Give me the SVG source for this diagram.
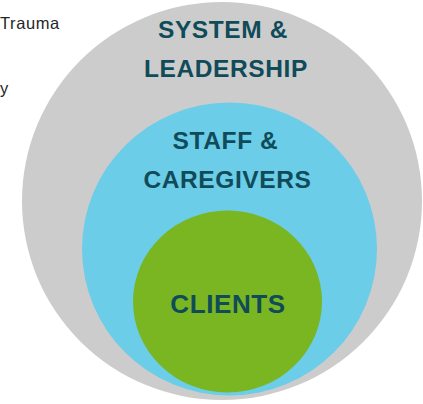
<svg xmlns="http://www.w3.org/2000/svg" width="423" height="404" viewBox="0 0 423 404">
<style>
.lbl{font-family:"Liberation Sans",Arial,sans-serif;font-weight:bold;fill:#104b59;text-anchor:middle;letter-spacing:0.6px}
.side{font-family:"Liberation Sans",Arial,sans-serif;fill:#262626;font-size:16.5px;letter-spacing:0.6px}
</style>
<rect width="423" height="404" fill="#ffffff"/>
<text class="side" x="0" y="29">Trauma</text>
<text class="side" x="0" y="94">y</text>
<g id="system-leadership">
<ellipse cx="222" cy="201" rx="200" ry="199" fill="#cdcccd"/>
<text class="lbl" x="223" y="38" font-size="24.5">SYSTEM &amp;</text>
<text class="lbl" x="226" y="77" font-size="24.5">LEADERSHIP</text>
</g>
<g id="staff-caregivers">
<ellipse cx="229.5" cy="249" rx="147.5" ry="146.5" fill="#6bcde8"/>
<text class="lbl" x="225.5" y="149" font-size="24.5">STAFF &amp;</text>
<text class="lbl" x="227.5" y="188" font-size="24.5">CAREGIVERS</text>
</g>
<g id="clients">
<ellipse cx="227.5" cy="301.5" rx="94.5" ry="91" fill="#79b622"/>
<text class="lbl" x="228" y="313" font-size="26">CLIENTS</text>
</g>
<g id="connectors"/>
</svg>
